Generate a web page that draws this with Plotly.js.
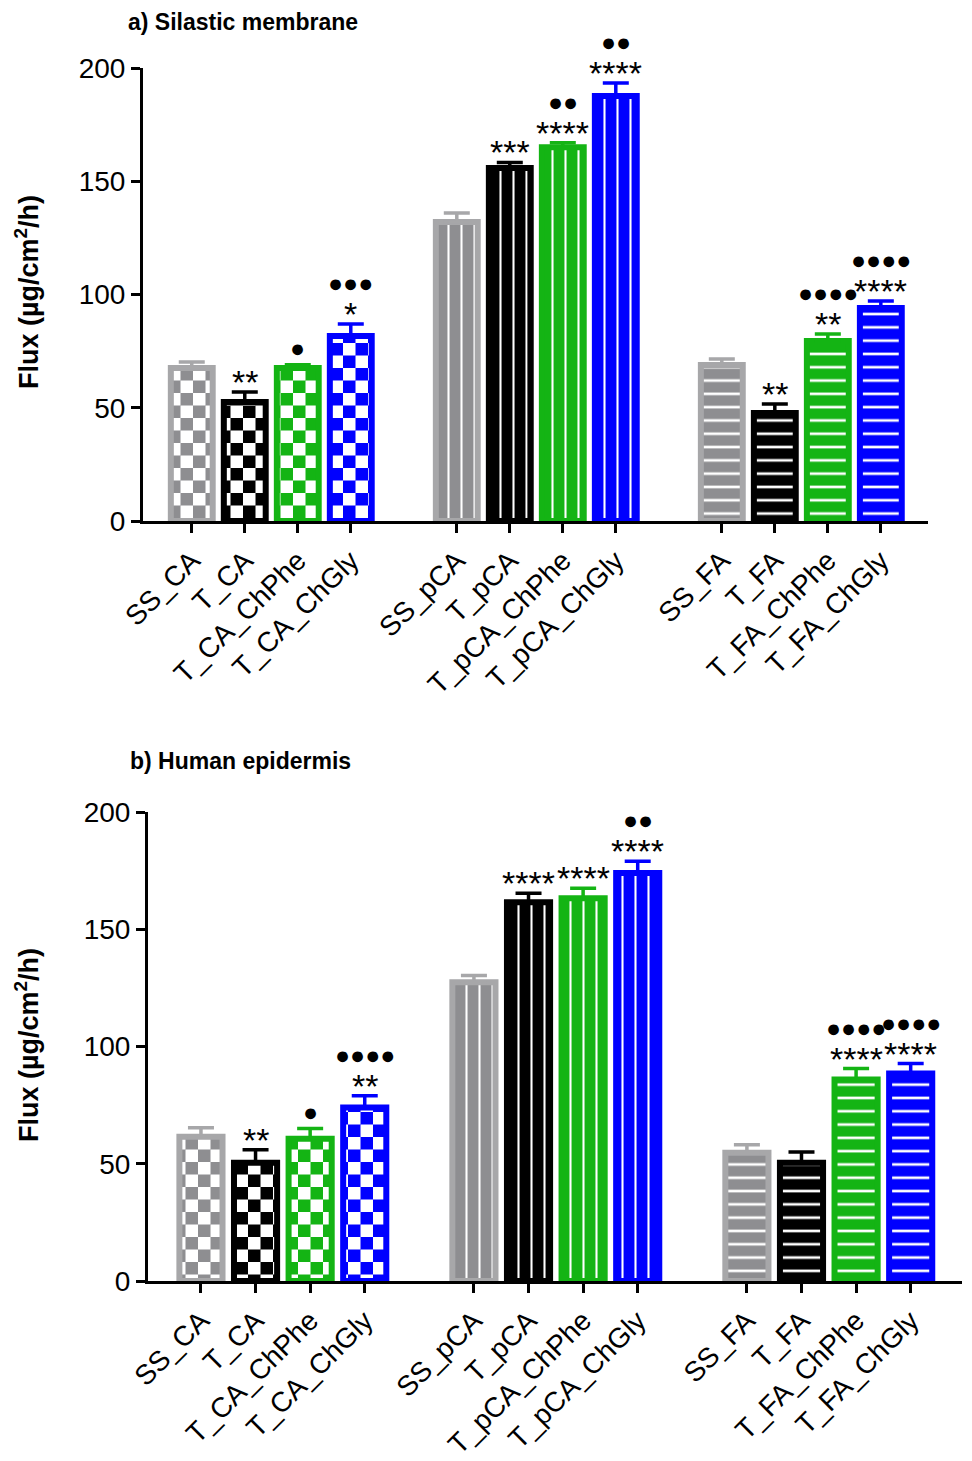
<!DOCTYPE html>
<html>
<head>
<meta charset="utf-8">
<script src="https://cdn.plot.ly/plotly-3.0.1.min.js"></script>
<style>html,body{margin:0;padding:0;background:#fff;}#chart{width:972px;height:1461px;}</style>
</head>
<body>
<div id="chart"></div>
<script>
// ---------- DATA ----------
const categories = ['SS_CA','T_CA','T_CA_ChPhe','T_CA_ChGly',
                    'SS_pCA','T_pCA','T_pCA_ChPhe','T_pCA_ChGly',
                    'SS_FA','T_FA','T_FA_ChPhe','T_FA_ChGly'];
const fluxSilastic  = [67.5, 52.5, 67.5, 81.7, 132.0, 155.8, 165.0, 187.6, 68.9, 47.7, 79.5, 94.0];
const errSilastic   = [2.7, 4.5, 1.5, 5.3, 4.0, 2.5, 2.0, 5.8, 2.6, 4.0, 3.1, 3.1];
const starsSilastic = ['', '**', '', '*', '', '***', '****', '****', '', '**', '**', '****'];
const dotsSilastic  = [0, 0, 1, 3, 0, 0, 2, 2, 0, 0, 4, 4];

const fluxEpidermis  = [61.5, 50.4, 60.7, 74.0, 127.4, 161.5, 163.2, 174.0, 54.7, 50.4, 85.9, 88.5];
const errEpidermis   = [3.9, 5.6, 4.3, 5.0, 2.9, 3.9, 4.3, 5.0, 3.4, 4.6, 4.7, 4.2];
const starsEpidermis = ['', '**', '', '**', '', '****', '****', '****', '', '', '****', '****'];
const dotsEpidermis  = [0, 0, 1, 4, 0, 0, 0, 2, 0, 0, 4, 4];

const yTicks = [0, 50, 100, 150, 200];

// ---------- STYLE ----------
const W = 972, H = 1461;
const FONT = 'Liberation Sans, Arial, Helvetica, sans-serif';
const fillColors = ['#8e8e91', '#000000', '#14b414', '#0000ff'];
const lineColors = ['#a7a7a9', '#000000', '#14b414', '#0000ff'];
const shapes = ['+', '|', '-'];      // CA checker (post-processed), pCA vertical, FA horizontal
const psizes = [25, 13, 13.3];
const psolid = [0.5, 0.16, 0.2];

// position of each category: group*5 + index within group
const pos = categories.map((c, i) => Math.floor(i / 4) * 5 + (i % 4));

function buildTraces(vals, errs, xa, ya) {
  const traces = [];
  for (let k = 0; k < 4; k++) {
    const idx = [k, k + 4, k + 8];
    traces.push({
      type: 'bar', xaxis: xa, yaxis: ya,
      x: idx.map(i => pos[i]),
      y: idx.map(i => vals[i]),
      width: 0.79,
      showlegend: false,
      hoverinfo: 'skip',
      marker: {
        color: fillColors[k],
        line: {color: lineColors[k], width: 6},
        pattern: {shape: shapes, size: psizes, solidity: psolid,
                  fillmode: 'overlay', fgcolor: '#ffffff', fgopacity: 1}
      },
      error_y: {type: 'data', symmetric: false,
                array: idx.map(i => errs[i]), arrayminus: idx.map(() => 0),
                color: lineColors[k], thickness: 3.5, width: 13}
    });
  }
  return traces;
}

function buildAnnotations(vals, errs, stars, dots, xa, ya) {
  const ann = [];
  for (let i = 0; i < categories.length; i++) {
    const top = vals[i] + errs[i];
    if (stars[i]) {
      ann.push({xref: xa, yref: ya, x: pos[i], y: top, text: stars[i],
        showarrow: false, xanchor: 'center', yanchor: 'middle', yshift: 10,
        font: {family: FONT, size: 34, color: '#000'}});
    }
    if (dots[i] > 0) {
      ann.push({xref: xa, yref: ya, x: pos[i], y: top, text: '●'.repeat(dots[i]),
        showarrow: false, xanchor: 'center', yanchor: 'middle',
        yshift: stars[i] ? 41 : 17,
        font: {family: FONT, size: 25, color: '#000'}});
    }
  }
  return ann;
}

const data = [].concat(
  buildTraces(fluxSilastic, errSilastic, 'x', 'y'),
  buildTraces(fluxEpidermis, errEpidermis, 'x2', 'y2')
);

const xCommon = {
  tickmode: 'array', tickvals: pos, ticktext: categories, tickangle: -45,
  showline: true, linecolor: '#000', linewidth: 3, ticks: 'outside', ticklen: 9,
  tickwidth: 3, tickcolor: '#000', showgrid: false, zeroline: false,
  tickfont: {family: FONT, size: 28, color: '#000'}, fixedrange: true
};
const yCommon = {
  range: [0, 200], tickmode: 'array', tickvals: yTicks,
  showline: true, linecolor: '#000', linewidth: 3, ticks: 'outside', ticklen: 9,
  tickwidth: 3, tickcolor: '#000', showgrid: false, zeroline: false,
  tickfont: {family: FONT, size: 28, color: '#000'}, fixedrange: true
};

const layout = {
  width: W, height: H,
  margin: {l: 0, r: 0, t: 0, b: 0, pad: 0},
  paper_bgcolor: '#fff', plot_bgcolor: '#fff',
  bargap: 0,
  title: {text: '<b>a) Silastic membrane</b>', x: 128 / W, xanchor: 'left',
          xref: 'paper', y: 1 - 22 / H, yanchor: 'middle', yref: 'container',
          font: {family: FONT, size: 23, color: '#000'}},
  xaxis: Object.assign({}, xCommon, {domain: [143 / W, 928 / W], range: [-0.92, 13.89], anchor: 'y'}),
  yaxis: Object.assign({}, yCommon, {domain: [1 - 521 / H, 1 - 68 / H], anchor: 'x'}),
  xaxis2: Object.assign({}, xCommon, {domain: [148 / W, 962 / W], range: [-0.97, 13.94], anchor: 'y2'}),
  yaxis2: Object.assign({}, yCommon, {domain: [1 - 1281 / H, 1 - 812 / H], anchor: 'x2'}),
  annotations: [].concat(
    [{xref: 'paper', yref: 'paper', x: 128 / W, y: 1 - 761 / H, xanchor: 'left', yanchor: 'middle',
      text: '<b>b) Human epidermis</b>', showarrow: false,
      font: {family: FONT, size: 23, color: '#000'}},
     {xref: 'paper', yref: 'paper', x: 27 / W, y: 1 - 292 / H, xanchor: 'center', yanchor: 'middle',
      textangle: -90, text: '<b>Flux (µg/cm<sup>2</sup>/h)</b>', showarrow: false,
      font: {family: FONT, size: 27, color: '#000'}},
     {xref: 'paper', yref: 'paper', x: 27 / W, y: 1 - 1045 / H, xanchor: 'center', yanchor: 'middle',
      textangle: -90, text: '<b>Flux (µg/cm<sup>2</sup>/h)</b>', showarrow: false,
      font: {family: FONT, size: 27, color: '#000'}}],
    buildAnnotations(fluxSilastic, errSilastic, starsSilastic, dotsSilastic, 'x', 'y'),
    buildAnnotations(fluxEpidermis, errEpidermis, starsEpidermis, dotsEpidermis, 'x2', 'y2')
  )
};

Plotly.newPlot('chart', data, layout, {staticPlot: true, displayModeBar: false}).then(function () {
  // turn the '+' pattern tiles (size 25) into a checkerboard
  const NS = 'http://www.w3.org/2000/svg';
  document.querySelectorAll('pattern').forEach(function (p) {
    const w = parseFloat(p.getAttribute('width'));
    if (Math.abs(w - psizes[0]) < 0.01) {
      const half = w / 2;
      Array.from(p.querySelectorAll('path')).forEach(function (el) { el.remove(); });
      [[0, 0], [half, half]].forEach(function (o) {
        const r = document.createElementNS(NS, 'rect');
        r.setAttribute('x', o[0]); r.setAttribute('y', o[1]);
        r.setAttribute('width', half); r.setAttribute('height', half);
        r.setAttribute('fill', '#ffffff');
        p.appendChild(r);
      });
    }
  });
});
</script>
</body>
</html>
